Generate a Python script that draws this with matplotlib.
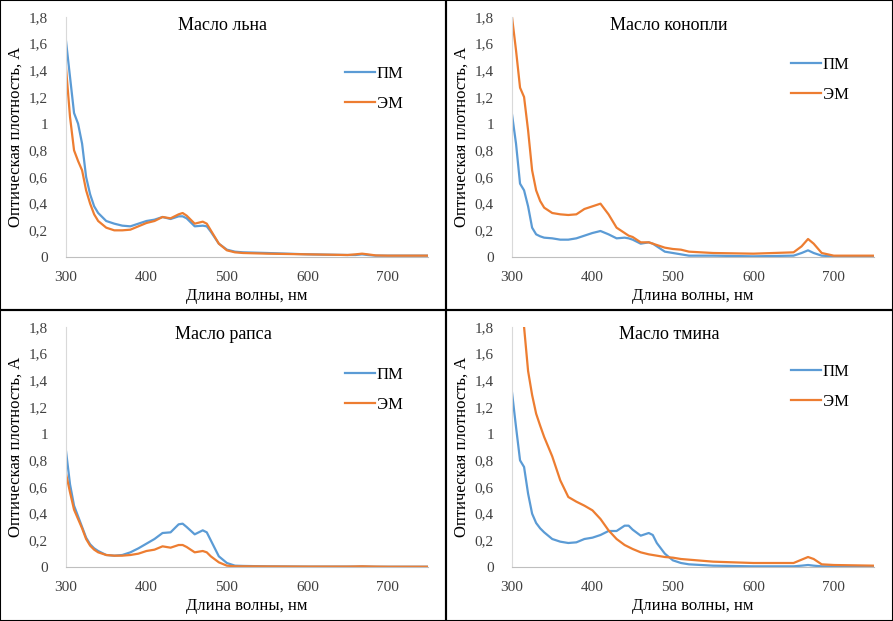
import numpy as np
import matplotlib
matplotlib.use("Agg")
import matplotlib.pyplot as plt
from matplotlib.patches import Rectangle

plt.rcParams['font.family'] = ['Liberation Serif', 'DejaVu Serif']

# общая сетка длин волн, нм
wl = [300, 305, 310, 315, 320, 325, 330, 335, 340, 350, 360, 370, 380, 390, 400,
      410, 420, 430, 440, 445, 450, 460, 470, 475, 480, 490, 500, 510, 520, 550,
      600, 650, 660, 668, 675, 685, 700, 750]

titles = ['Масло льна', 'Масло конопли', 'Масло рапса', 'Масло тмина']
series_names = ['ПМ', 'ЭМ']

flax_pm = [1.62, 1.35, 1.08, 1.00, 0.85, 0.60, 0.47, 0.38, 0.33, 0.27, 0.25, 0.235, 0.23, 0.25, 0.27,
           0.28, 0.30, 0.285, 0.305, 0.305, 0.29, 0.23, 0.235, 0.23, 0.19, 0.10, 0.055, 0.04, 0.035, 0.03,
           0.02, 0.015, 0.015, 0.02, 0.015, 0.01, 0.01, 0.01]
flax_em = [1.42, 1.05, 0.80, 0.72, 0.65, 0.50, 0.40, 0.32, 0.27, 0.22, 0.20, 0.20, 0.205, 0.23, 0.255,
           0.27, 0.30, 0.29, 0.32, 0.33, 0.31, 0.25, 0.265, 0.25, 0.20, 0.10, 0.05, 0.035, 0.03, 0.025,
           0.02, 0.015, 0.02, 0.025, 0.02, 0.012, 0.01, 0.01]

hemp_pm = [1.07, 0.85, 0.55, 0.50, 0.38, 0.22, 0.17, 0.155, 0.145, 0.14, 0.13, 0.13, 0.14, 0.16, 0.18,
           0.195, 0.17, 0.14, 0.145, 0.14, 0.13, 0.10, 0.11, 0.10, 0.08, 0.04, 0.03, 0.02, 0.01, 0.01,
           0.005, 0.01, 0.03, 0.05, 0.03, 0.01, 0.005, 0.005]
hemp_em = [1.80, 1.55, 1.27, 1.20, 0.95, 0.65, 0.50, 0.42, 0.37, 0.33, 0.32, 0.315, 0.32, 0.36, 0.38,
           0.40, 0.32, 0.22, 0.18, 0.16, 0.15, 0.11, 0.11, 0.10, 0.09, 0.07, 0.06, 0.055, 0.04, 0.03,
           0.025, 0.035, 0.08, 0.135, 0.10, 0.03, 0.01, 0.01]

rape_pm = [0.87, 0.62, 0.46, 0.38, 0.30, 0.22, 0.17, 0.14, 0.12, 0.09, 0.085, 0.09, 0.11, 0.14, 0.175,
           0.21, 0.255, 0.26, 0.32, 0.325, 0.30, 0.245, 0.275, 0.26, 0.20, 0.08, 0.03, 0.01, 0.008, 0.005,
           0.003, 0.003, 0.003, 0.004, 0.003, 0.002, 0.002, 0.002]
rape_em = [0.70, 0.56, 0.43, 0.36, 0.29, 0.21, 0.16, 0.13, 0.11, 0.09, 0.085, 0.085, 0.09, 0.10, 0.12,
           0.13, 0.155, 0.145, 0.165, 0.165, 0.15, 0.11, 0.12, 0.11, 0.08, 0.035, 0.01, 0.005, 0.005, 0.004,
           0.003, 0.003, 0.004, 0.005, 0.004, 0.003, 0.002, 0.002]

caraway_pm = [1.31, 1.05, 0.80, 0.75, 0.55, 0.40, 0.33, 0.29, 0.26, 0.21, 0.19, 0.18, 0.185, 0.21, 0.22,
              0.24, 0.27, 0.27, 0.31, 0.31, 0.28, 0.235, 0.255, 0.24, 0.18, 0.10, 0.05, 0.03, 0.02, 0.01,
              0.005, 0.005, 0.01, 0.015, 0.01, 0.005, 0.004, 0.003]
caraway_em = [np.nan, np.nan, np.nan, 1.80, 1.47, 1.29, 1.15, 1.06, 0.975, 0.83, 0.65, 0.525, 0.49, 0.46, 0.425,
              0.36, 0.275, 0.21, 0.165, 0.15, 0.135, 0.11, 0.095, 0.09, 0.085, 0.075, 0.07, 0.06, 0.055, 0.04,
              0.03, 0.03, 0.055, 0.075, 0.06, 0.02, 0.015, 0.01]

data = [(flax_pm, flax_em), (hemp_pm, hemp_em), (rape_pm, rape_em), (caraway_pm, caraway_em)]

W, H = 893, 621
blue = '#5B9BD5'
orange = '#ED7D31'

fig = plt.figure(figsize=(W / 100, H / 100), dpi=100)
fig.patch.set_facecolor('white')

origins = [(0, 0), (446, 0), (0, 310), (446, 310)]
legend_y = [51, 42, 42, 39]

for k, (ox, oy) in enumerate(origins):
    # рамка панели
    pw = 446 if ox == 0 else W - 446
    ph = 310 if oy == 0 else H - 310
    fig.add_artist(Rectangle((ox / W, 1 - (oy + ph) / H), pw / W, ph / H,
                             transform=fig.transFigure, fill=False,
                             edgecolor='black', linewidth=1.5))

    ax = fig.add_axes([(ox + 66) / W, 1 - (oy + 257) / H, 362 / W, 240 / H])
    pm, em = data[k]
    ax.plot(wl, pm, color=blue, lw=1.6, label=series_names[0])
    ax.plot(wl, em, color=orange, lw=1.6, label=series_names[1])
    ax.set_xlim(300, 750)
    ax.set_ylim(0, 1.8)
    ax.set_xticks([300, 400, 500, 600, 700])
    ax.set_yticks(np.arange(0, 1.81, 0.2))
    ax.set_yticklabels(['0' if v == 0 else ('1' if abs(v - 1) < 1e-9 else f'{v:.1f}'.replace('.', ','))
                        for v in np.arange(0, 1.81, 0.2)])
    ax.tick_params(axis='y', length=0, labelsize=11, pad=13, colors='#404040')
    ax.tick_params(axis='x', length=0, labelsize=11, pad=10, colors='#404040')
    for s in ['top', 'right']:
        ax.spines[s].set_visible(False)
    ax.spines['left'].set_color('#D9D9D9')
    ax.spines['bottom'].set_color('#BFBFBF')
    ax.set_xlabel('Длина волны, нм', fontsize=12)
    ax.set_ylabel('Оптическая плотность, А', fontsize=12, labelpad=4)
    ax.xaxis.set_label_coords(0.5, -(288 - 257) / 240)

    fig.text((ox + 223) / W, 1 - (oy + 25) / H, titles[k], fontsize=13,
             ha='center', va='center')

    ax.legend(loc='upper left', bbox_to_anchor=((ox + 330) / W, 1 - (oy + legend_y[k]) / H),
              bbox_transform=fig.transFigure, frameon=False, fontsize=12,
              handlelength=1.8, handletextpad=0.1, labelspacing=0.85)

fig.savefig('out.png', dpi=100)
